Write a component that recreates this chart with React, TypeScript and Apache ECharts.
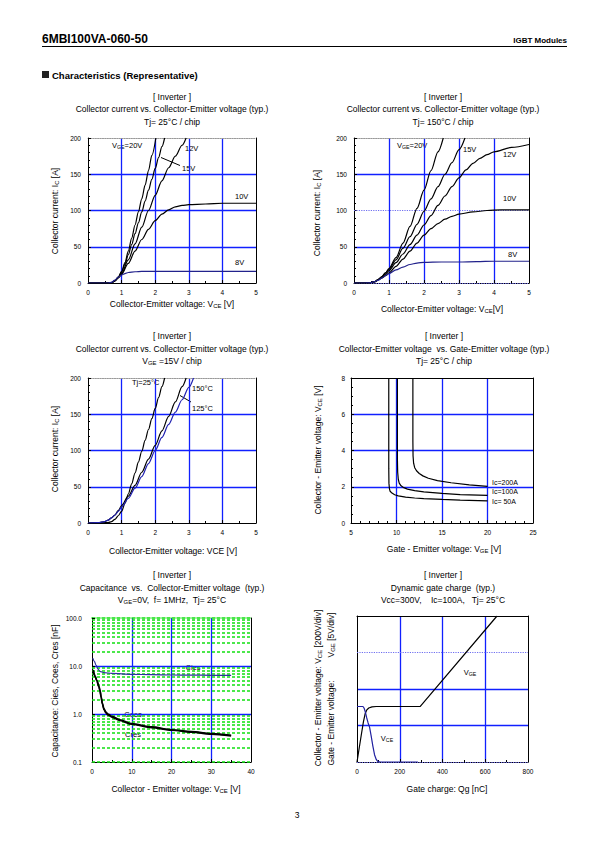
import React, { useEffect, useRef } from 'react';
import * as echarts from 'echarts';

const F = '"Liberation Sans", Arial, Helvetica, sans-serif';

// ---------- Chart 1: Ic vs Vce, Tj=25°C ----------
const t25_vge20 = [[0,0],[0.6,0],[0.7,0.5],[0.8,3],[0.9,8],[1.0,16],[1.1,28],[1.2,44],[1.3,62],[1.4,80],[1.5,98],[1.6,116],[1.7,135],[1.8,155],[1.9,176],[2.02,200]];
const t25_vge15 = [[0,0],[0.6,0],[0.7,0.5],[0.8,3],[0.9,8],[1.0,15],[1.1,26],[1.2,39],[1.3,53],[1.4,68],[1.5,83],[1.6,98],[1.7,113],[1.8,128],[1.9,143],[2.0,158],[2.1,173],[2.2,188],[2.28,200]];
const t25_vge12 = [[0,0],[0.6,0],[0.7,0.5],[0.8,3],[0.9,7],[1.0,13],[1.2,32],[1.4,54],[1.6,77],[1.8,100],[2.0,121],[2.2,141],[2.4,159],[2.6,175],[2.8,190],[2.92,200]];
const t25_vge10 = [[0,0],[0.6,0],[0.7,0.5],[0.8,3],[0.9,7],[1.0,12],[1.2,27],[1.4,44],[1.6,60],[1.8,74],[2.0,86],[2.2,95],[2.4,101],[2.6,105],[2.8,107],[3.0,108],[3.5,109],[4.0,110],[5.0,110]];
const t25_vge8 = [[0,0],[0.6,0],[0.7,1],[0.8,4],[0.9,8],[1.0,11],[1.1,13],[1.2,14.5],[1.4,15.5],[1.6,16],[2.0,16],[3.0,16],[4.0,16],[5.0,16]];

// ---------- Chart 2: Ic vs Vce, Tj=150°C ----------
const t150_vge20 = [[0,0],[0.3,0],[0.45,0.3],[0.6,2],[0.7,5],[0.8,9],[0.9,14],[1.0,20],[1.2,35],[1.4,55],[1.6,78],[1.8,103],[2.0,128],[2.2,155],[2.4,181],[2.55,200]];
const t150_vge15 = [[0,0],[0.3,0],[0.45,0.3],[0.6,2],[0.7,5],[0.8,9],[0.9,14],[1.0,19],[1.2,32],[1.4,48],[1.6,64],[1.8,81],[2.0,99],[2.2,116],[2.4,133],[2.6,150],[2.8,166],[3.0,184],[3.17,200]];
const t150_vge12 = [[0,0],[0.3,0],[0.45,0.3],[0.6,2],[0.7,5],[0.8,8],[0.9,12],[1.0,17],[1.2,28],[1.4,40],[1.6,53],[1.8,66],[2.0,80],[2.2,93],[2.4,107],[2.6,120],[2.8,133],[3.0,145],[3.2,156],[3.4,165],[3.6,172],[3.8,177],[4.0,181],[4.5,187],[5.0,191]];
const t150_vge10 = [[0,0],[0.3,0],[0.45,0.3],[0.6,2],[0.7,4.5],[0.8,7],[0.9,10],[1.0,14],[1.2,23],[1.4,33],[1.6,44],[1.8,55],[2.0,66],[2.2,75],[2.4,82],[2.6,88],[2.8,92],[3.0,95],[3.4,98],[3.8,100],[4.2,101],[5.0,101]];
const t150_vge8 = [[0,0],[0.3,0],[0.45,0.3],[0.6,2],[0.7,4],[0.8,7],[0.9,10],[1.0,13],[1.2,18],[1.4,22],[1.6,25.5],[1.8,27.5],[2.0,28.5],[2.5,29],[3.0,29],[3.5,29.5],[4.0,30],[5.0,30]];

// ---------- Chart 3: Ic vs Vce, Vge=15V ----------
const v15_tj25 = [[0,0],[0.6,0.5],[0.7,2],[0.8,5],[0.9,10],[1.0,16],[1.1,27],[1.2,40],[1.3,54],[1.4,69],[1.5,84],[1.6,99],[1.7,114],[1.8,129],[1.9,144],[2.0,158],[2.1,173],[2.2,188],[2.28,200]];
const v15_tj125 = [[0,0],[0.3,0.5],[0.5,2],[0.6,4],[0.7,7],[0.8,11],[0.9,17],[1.0,24],[1.2,37],[1.4,52],[1.6,70],[1.8,88],[2.0,107],[2.2,127],[2.4,147],[2.6,167],[2.8,188],[2.92,200]];
const v15_tj150 = [[0,0],[0.3,0.5],[0.5,2],[0.6,4],[0.7,7],[0.8,11],[0.9,16],[1.0,22],[1.2,34],[1.4,48],[1.6,64],[1.8,82],[2.0,100],[2.2,118],[2.4,136],[2.6,153],[2.8,170],[3.0,187],[3.14,200]];

// ---------- Chart 4: Vce vs Vge ----------
const ic50 = [[9.15,8],[9.15,3],[9.17,2.2],[9.22,1.9],[9.3,1.75],[9.5,1.65],[9.8,1.56],[10.2,1.5],[11,1.43],[12,1.38],[13,1.35],[15,1.3],[17,1.26],[20,1.22]];
const ic100 = [[10.1,8],[10.1,3.5],[10.13,2.8],[10.2,2.4],[10.3,2.2],[10.5,2.05],[10.8,1.95],[11.2,1.87],[12,1.79],[13,1.72],[15,1.63],[17,1.57],[20,1.52]];
const ic200 = [[11.8,8],[11.8,4.5],[11.82,3.7],[11.88,3.3],[12.0,3.05],[12.2,2.88],[12.5,2.73],[12.9,2.6],[13.5,2.47],[14.5,2.34],[16,2.22],[18,2.1],[20,2.02]];

// ---------- Chart 5: Capacitance ----------
const cies = [[0.2,14.5],[0.6,12.5],[1.0,10.5],[1.5,8.6],[2.0,7.7],[3,7.3],[5,7.0],[10,6.7],[15,6.6],[20,6.5],[25,6.45],[30,6.4],[35,6.35]];
const coes = [[0.3,8.3],[0.8,6.2],[1.25,5.0],[1.7,3.9],[2.0,3.2],[2.3,2.3],[2.6,1.7],[3.0,1.3],[3.5,1.1],[4.0,1.0],[5,0.9],[7,0.76],[10,0.63],[15,0.54],[20,0.47],[25,0.43],[30,0.39],[35,0.36]];
const cres = [[0.3,7.9],[0.8,5.9],[1.25,4.8],[1.7,3.7],[2.0,3.05],[2.3,2.2],[2.6,1.62],[3.0,1.24],[3.5,1.05],[4.0,0.96],[5,0.86],[7,0.73],[10,0.61],[15,0.52],[20,0.46],[25,0.42],[30,0.38],[35,0.35]];
const capMinorGrid = [0.2,0.3,0.4,0.5,0.6,0.7,0.8,0.9,2,3,4,5,6,7,8,9,20,30,40,50,60,70,80,90];

// ---------- Chart 6: Gate charge (y in divisions) ----------
const qgVge = [[0,0],[10,0.37],[20,0.74],[30,1.1],[38,1.32],[45,1.42],[55,1.48],[70,1.51],[90,1.52],[295,1.52],[655,4]];
const qgVce = [[0,1.52],[28,1.52],[33,1.48],[39,1.37],[45,1.22],[52,1.07],[59,0.95],[66,0.72],[74,0.44],[82,0.2],[90,0.07],[98,0.01],[110,0],[285,0]];

const BL = '#1020ff';
const NONE = 'rgba(0,0,0,0)';
const GW = 1.3;
const LBLUE_DOT = { color: '#6f6ff0', width: 1.2, type: 'dotted' };
const GRAY_DOT = { color: '#999999', width: 1.2, type: 'dotted' };
const BLACK = { color: '#000000', width: 1, type: 'solid' };
const GREEN = { color: '#10e010', width: 1.5, type: [3, 2] };

const TS = 8.5; // title / axis-name size
const LS = 7.5; // in-plot label size

function txt(x: number, y: number, text: string, opt: any = {}) {
  const size = opt.size || TS;
  return {
    type: 'text', x, y, rotation: opt.rot || 0, silent: true,
    style: {
      text, fill: '#000', fontSize: size, fontFamily: F, fontWeight: opt.bold ? 'bold' : 'normal',
      align: opt.align || 'center', verticalAlign: 'middle', rich: {
        s: { fontSize: size * 0.7, fontFamily: F, verticalAlign: 'bottom', fill: '#000' },
      },
    },
  };
}

function split(colors: string | string[]) {
  return { show: true, showMinLine: false, showMaxLine: false, lineStyle: { color: colors, width: GW, type: 'solid' } };
}

function xAx(idx: number, min: number, max: number, interval: number, minor: number, colors: any) {
  return {
    type: 'value', gridIndex: idx, min, max, interval, position: 'bottom',
    axisLine: { show: true, onZero: false, lineStyle: { color: '#000', width: 1 } },
    axisTick: { show: true, inside: true, length: 3, lineStyle: { color: '#000' } },
    minorTick: { show: minor > 0, splitNumber: minor || 2, length: 2, lineStyle: { color: '#000' } },
    splitLine: split(colors),
    axisLabel: { show: true, color: '#000', fontSize: 6.5, fontFamily: F, margin: 6 },
  };
}
function yAx(idx: number, min: number, max: number, interval: number, minor: number, colors: any, showLabel = true, margin = 7) {
  return {
    type: 'value', gridIndex: idx, min, max, interval, position: 'left',
    axisLine: { show: true, onZero: false, lineStyle: { color: '#000', width: 1 } },
    axisTick: { show: showLabel, inside: true, length: 3, lineStyle: { color: '#000' } },
    minorTick: { show: minor > 0, splitNumber: minor || 2, length: 2, lineStyle: { color: '#000' } },
    splitLine: split(colors),
    axisLabel: { show: showLabel, color: '#000', fontSize: 6.5, fontFamily: F, margin },
  };
}
function edgeAx(idx: number, position: string, style: any) {
  return {
    type: 'value', gridIndex: idx, position, min: 0, max: 1,
    axisLine: { show: true, onZero: false, lineStyle: style },
    axisTick: { show: false }, axisLabel: { show: false }, splitLine: { show: false },
  };
}
// background lines with one shared style; first item is a dummy on the x axis line
function hlines(idx: number, base: number, ys: number[], style: any) {
  return {
    type: 'line', xAxisIndex: idx, yAxisIndex: idx, data: [], silent: true,
    markLine: {
      silent: true, z: 1, symbol: ['none', 'none'], label: { show: false }, emphasis: { disabled: true },
      animation: false, lineStyle: style,
      data: [{ yAxis: base }, ...ys.map((y) => ({ yAxis: y, lineStyle: style }))],
    },
  };
}
function curve(idx: number, data: number[][], color = '#000', width = 1.2, smooth: any = 0.3) {
  return {
    type: 'line', xAxisIndex: idx, yAxisIndex: idx, data, showSymbol: false, symbol: 'none',
    smooth, smoothMonotone: smooth ? 'x' : undefined, clip: true, silent: true, z: 3,
    lineStyle: { color, width }, itemStyle: { color },
  };
}

export default function App() {
  const ref = useRef<HTMLDivElement>(null);
  useEffect(() => {
    if (!ref.current) return;
    const chart = echarts.init(ref.current, undefined, { renderer: 'svg' });

    const grids = [
      { left: 88, top: 138, width: 168, height: 145 },
      { left: 354, top: 138, width: 175, height: 145 },
      { left: 88, top: 378, width: 168, height: 145 },
      { left: 351, top: 378, width: 182, height: 145 },
      { left: 92, top: 618, width: 159, height: 144 },
      { left: 357, top: 616, width: 171, height: 146 },
    ];

    const yLog = {
      type: 'log', gridIndex: 4, min: 0.1, max: 100, logBase: 10, position: 'left',
      axisLine: { show: true, onZero: false, lineStyle: { color: '#000', width: 1 } },
      axisTick: { show: true, inside: true, length: 3, lineStyle: { color: '#000' } },
      splitLine: split(BL),
      axisLabel: { show: true, color: '#000', fontSize: 6.5, fontFamily: F, margin: 10, formatter: (val: number) => val.toFixed(1) },
    };

    const option: any = {
      animation: false,
      backgroundColor: '#fff',
      grid: grids,
      xAxis: [
        xAx(0, 0, 5, 1, 2, BL),
        xAx(1, 0, 5, 1, 2, BL),
        xAx(2, 0, 5, 1, 2, BL),
        xAx(3, 5, 25, 5, 5, BL),
        xAx(4, 0, 40, 10, 2, BL),
        xAx(5, 0, 800, 200, 2, BL),
        edgeAx(0, 'top', GRAY_DOT),
        edgeAx(1, 'top', GRAY_DOT),
        edgeAx(2, 'top', GRAY_DOT),
        edgeAx(3, 'top', BLACK),
        edgeAx(4, 'top', GREEN),
        edgeAx(5, 'top', BLACK),
      ],
      yAxis: [
        yAx(0, 0, 200, 50, 5, BL),
        yAx(1, 0, 200, 50, 5, [BL, NONE, BL]),
        yAx(2, 0, 200, 50, 5, BL),
        yAx(3, 0, 8, 2, 4, BL, true, 6),
        yLog,
        yAx(5, 0, 4, 1, 0, [BL, BL, NONE], false),
        edgeAx(0, 'right', BLACK),
        edgeAx(1, 'right', BLACK),
        edgeAx(2, 'right', BLACK),
        edgeAx(3, 'right', BLACK),
        edgeAx(4, 'right', BLACK),
        edgeAx(5, 'right', BLACK),
      ],
      series: [
        hlines(1, 0, [100], LBLUE_DOT),
        hlines(4, 0.1, capMinorGrid, GREEN),
        hlines(5, 0, [3], LBLUE_DOT),

        curve(0, t25_vge20), curve(0, t25_vge15), curve(0, t25_vge12), curve(0, t25_vge10), curve(0, t25_vge8, '#22228c'),
        curve(1, t150_vge20), curve(1, t150_vge15), curve(1, t150_vge12), curve(1, t150_vge10), curve(1, t150_vge8, '#22228c'),
        curve(2, v15_tj25), curve(2, v15_tj125), curve(2, v15_tj150, '#2020b0'),
        curve(3, ic50, '#000', 1.2, false), curve(3, ic100, '#000', 1.2, false), curve(3, ic200, '#000', 1.2, false),
        curve(4, cies, '#3030a0', 1.2), curve(4, coes, '#000', 1.6), curve(4, cres, '#000', 1.6),
        curve(5, qgVge, '#000', 1.2, false), curve(5, qgVce, '#2020a0', 1.2, false),
      ],
      graphic: [
        // page header
        txt(42, 39, '6MBI100VA-060-50', { size: 12, bold: true, align: 'left' }),
        txt(567, 40, 'IGBT Modules', { size: 8, bold: true, align: 'right' }),
        { type: 'line', silent: true, shape: { x1: 42, y1: 46.5, x2: 567, y2: 46.5 }, style: { stroke: '#000', lineWidth: 1 } },
        { type: 'rect', silent: true, shape: { x: 42, y: 71, width: 7, height: 7 }, style: { fill: '#222' } },
        txt(52, 75, 'Characteristics (Representative)', { size: 9.5, bold: true, align: 'left' }),
        txt(297, 815, '3', { size: 8.5 }),

        // chart 1
        txt(172, 97, '[ Inverter ]'),
        txt(172, 109, 'Collector current vs. Collector-Emitter voltage (typ.)'),
        txt(172, 122, 'Tj= 25°C / chip'),
        txt(172, 304, 'Collector-Emitter voltage: V{s|CE} [V]'),
        txt(55, 211, 'Collector current: I{s|C} [A]', { rot: Math.PI / 2 }),
        txt(112, 145, 'V{s|GE}=20V', { size: LS, align: 'left' }),
        txt(185, 148, '12V', { size: LS, align: 'left' }),
        txt(182, 168.5, '15V', { size: LS, align: 'left' }),
        txt(235, 196, '10V', { size: LS, align: 'left' }),
        txt(235, 262, '8V', { size: LS, align: 'left' }),
        { type: 'line', silent: true, shape: { x1: 161, y1: 157.5, x2: 180, y2: 165.5 }, style: { stroke: '#000', lineWidth: 1 } },

        // chart 2
        txt(443, 97, '[ Inverter ]'),
        txt(443, 109, 'Collector current vs. Collector-Emitter voltage (typ.)'),
        txt(443, 122, 'Tj= 150°C / chip'),
        txt(442, 309, 'Collector-Emitter voltage: V{s|CE}[V]'),
        txt(317, 213, 'Collector current: I{s|C} [A]', { rot: Math.PI / 2 }),
        txt(397, 145, 'V{s|GE}=20V', { size: LS, align: 'left' }),
        txt(463, 149, '15V', { size: LS, align: 'left' }),
        txt(503, 154.5, '12V', { size: LS, align: 'left' }),
        txt(503, 198, '10V', { size: LS, align: 'left' }),
        txt(508, 254.5, '8V', { size: LS, align: 'left' }),

        // chart 3
        txt(172, 336, '[ Inverter ]'),
        txt(172, 348.5, 'Collector current vs. Collector-Emitter voltage (typ.)'),
        txt(172, 361, 'V{s|GE} =15V / chip'),
        txt(173, 551, 'Collector-Emitter voltage: VCE [V]'),
        txt(55, 449, 'Collector current: I{s|C} [A]', { rot: Math.PI / 2 }),
        txt(132, 382, 'Tj=25°C', { size: LS, align: 'left' }),
        txt(192, 388, '150°C', { size: LS, align: 'left' }),
        txt(192, 408.5, '125°C', { size: LS, align: 'left' }),
        { type: 'line', silent: true, shape: { x1: 180, y1: 395.5, x2: 191, y2: 402 }, style: { stroke: '#000', lineWidth: 1 } },

        // chart 4
        txt(444, 336, '[ Inverter ]'),
        txt(444, 348.5, 'Collector-Emitter voltage  vs. Gate-Emitter voltage (typ.)'),
        txt(444, 361, 'Tj= 25°C / chip'),
        txt(444, 549, 'Gate - Emitter voltage: V{s|GE} [V]'),
        txt(318, 450, 'Collector - Emitter voltage: V{s|CE} [V]', { rot: Math.PI / 2 }),
        txt(492, 482, 'Ic=200A', { size: 7, align: 'left' }),
        txt(492, 491, 'Ic=100A', { size: 7, align: 'left' }),
        txt(492, 501, 'Ic= 50A', { size: 7, align: 'left' }),

        // chart 5
        txt(172, 575, '[ Inverter ]'),
        txt(172, 588, 'Capacitance  vs.  Collector-Emitter voltage  (typ.)'),
        txt(172, 600, 'V{s|GE}=0V,  f= 1MHz,  Tj= 25°C'),
        txt(176, 789, 'Collector - Emitter voltage: V{s|CE} [V]'),
        txt(55, 691, 'Capacitance: Cies, Coes, Cres [nF]', { rot: Math.PI / 2 }),
        txt(193, 667, 'Cies', { size: LS }),
        txt(133, 714, 'Coes', { size: LS }),
        txt(133, 734, 'Cres', { size: LS }),

        // chart 6
        txt(443, 575, '[ Inverter ]'),
        txt(443, 588, 'Dynamic gate charge  (typ.)'),
        txt(443, 600, 'Vcc=300V,    Ic=100A,   Tj= 25°C'),
        txt(447, 789, 'Gate charge: Qg [nC]'),
        txt(318, 688, 'Collector - Emitter voltage: V{s|CE} [200V/div]', { rot: Math.PI / 2 }),
        txt(331, 723, 'Gate - Emitter voltage:', { rot: Math.PI / 2 }),
        txt(331, 635, 'V{s|GE} [5V/div]', { rot: Math.PI / 2 }),
        txt(470, 672, 'V{s|GE}', { size: LS }),
        txt(387, 738, 'V{s|CE}', { size: LS }),
      ],
    };
    chart.setOption(option);
    return () => chart.dispose();
  }, []);
  return <div ref={ref} style={{ position: 'absolute', left: 0, top: 0, width: 595, height: 842, background: '#fff' }} />;
}
